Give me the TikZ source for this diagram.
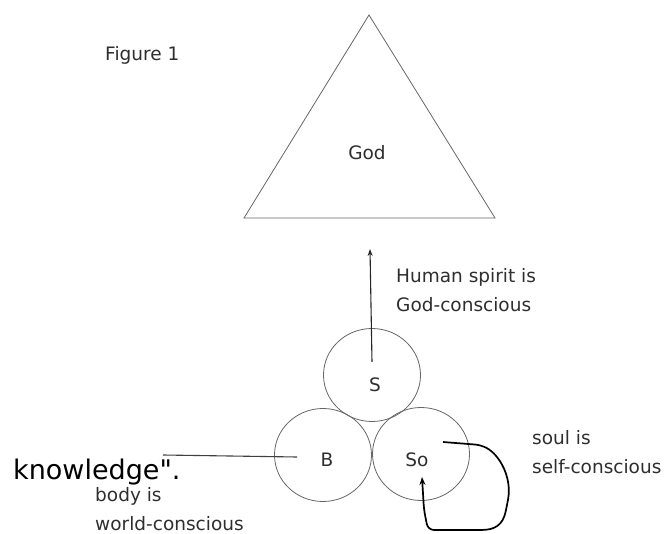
\documentclass[tikz,border=0pt]{standalone}
\usepackage{fontspec}
\setmainfont{DejaVu Sans}
\newfontfamily\knowfont[Ligatures=ResetAll]{DejaVu Sans}
\usetikzlibrary{arrows.meta, positioning, calc, shapes.geometric}

\begin{document}
\begin{tikzpicture}[
    x=1bp, y=-1bp,
    lbl/.style={text=black!82, inner sep=0pt, align=left,
                font=\fontsize{18.5bp}{29bp}\selectfont},
    part/.style={draw=black!60, line width=0.8bp, ellipse, minimum width=97bp,
                 minimum height=93bp, inner sep=0pt},
    arr/.style={-{Stealth[length=7bp, width=5bp]}, line width=1.1bp, draw=black!85},
    selfloop/.style={-{Stealth[length=8bp, width=6bp]}, line width=1.7bp, draw=black,
                     rounded corners=6bp}
]
\useasboundingbox (0,0) rectangle (668,534);
% God triangle
\coordinate (apex) at (369,15);
\coordinate (baseL) at (244,218);
\coordinate (baseR) at (495,218);
\draw[black!60, line width=0.8bp] (apex) -- (baseL) -- (baseR) -- cycle;
\node[lbl] (god) at (367,153) {God};
\node[lbl, anchor=west] (fig) at (105,55) {Figure 1};
% the three parts of man
\node[part] (s) at (372,375) {};
\node[part] (b) at (323,455) {};
\node[part] (so) at (421,454) {};
\node[lbl] (sl) at (375,385) {S};
\node[lbl] (bl) at (327,460) {B};
\node[lbl] (sol) at (417,460) {So};
% labels
\node[lbl, anchor=west] (spirit) at (396,290) {Human spirit is\\God-conscious};
\node[lbl, anchor=west] (soul) at (532,452) {soul is\\self-conscious};
\node[lbl, anchor=west] (body) at (95,509) {body is\\world-conscious};
\node[inner sep=0pt, anchor=base west, font=\knowfont\fontsize{27bp}{30bp}\selectfont]
    (know) at (13,479) {knowledge".};
% connectors
\coordinate (sTail) at (372,362);
\coordinate (sHead) at (370,249);
\draw[arr] (sTail) -- (sHead);
\coordinate (bTail) at (297,457);
\coordinate (bEnd) at (163,455);
\draw[black!75, line width=1.1bp] (bTail) -- (bEnd);
\coordinate (loopStart) at (443,442);
\coordinate (loopEnd) at (422,477);
\draw[selfloop] (loopStart) -- (481,445)
    .. controls (500,455) and (512,478) .. (507,505)
    .. controls (503,525) and (495,530) .. (475,530)
    -- (428,530) -- (424,510) -- (loopEnd);
\end{tikzpicture}
\end{document}
